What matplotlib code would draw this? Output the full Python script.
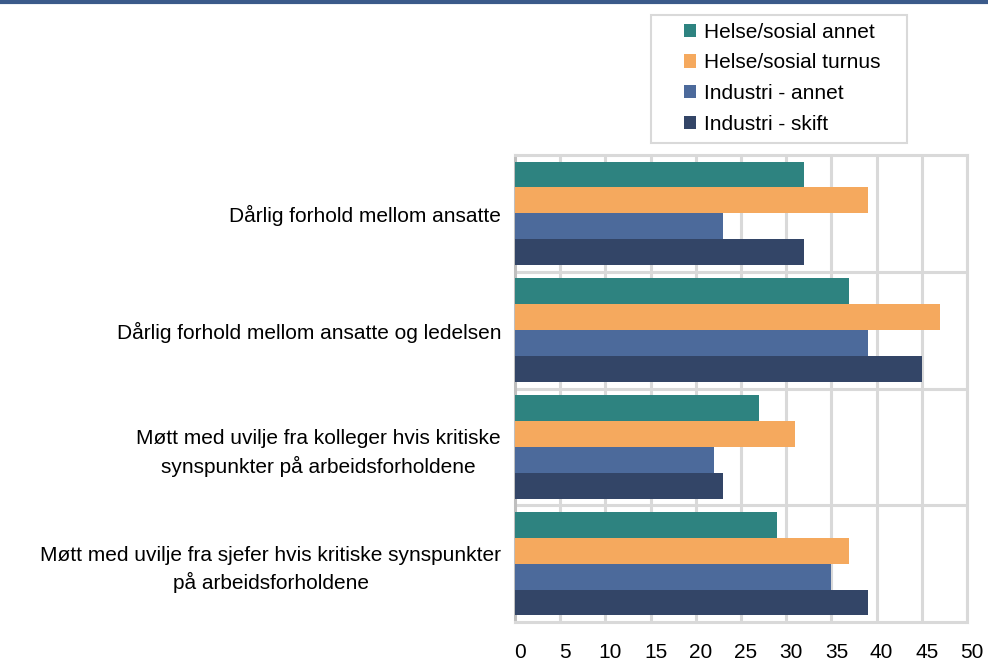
import matplotlib
matplotlib.use("Agg")
import matplotlib.pyplot as plt
import matplotlib.transforms as mtransforms
import numpy as np
from matplotlib.patches import Patch, Rectangle

categories = [
    "Dårlig forhold mellom ansatte",
    "Dårlig forhold mellom ansatte og ledelsen",
    "Møtt med uvilje fra kolleger hvis kritiske\nsynspunkter på arbeidsforholdene",
    "Møtt med uvilje fra sjefer hvis kritiske synspunkter\npå arbeidsforholdene",
]
series_names = ["Helse/sosial annet", "Helse/sosial turnus", "Industri - annet", "Industri - skift"]
helse_annet = [32, 37, 27, 29]
helse_turnus = [39, 47, 31, 37]
industri_annet = [23, 39, 22, 35]
industri_skift = [32, 45, 23, 39]
x_ticks = [0, 5, 10, 15, 20, 25, 30, 35, 40, 45, 50]

colors = ["#2e8380", "#f5a95e", "#4c6a9b", "#334567"]
values = [helse_annet, helse_turnus, industri_annet, industri_skift]

plt.rcParams['font.family'] = ['Liberation Sans', 'DejaVu Sans']

W, H = 988, 662
fig = plt.figure(figsize=(W/100, H/100), dpi=100)
ax = fig.add_axes([515/W, 1-622/H, (967-515)/W, (622-155)/H])

n = len(categories)
bh = 0.222
y_centers = np.arange(n)
for i, (vals, c) in enumerate(zip(values, colors)):
    offs = (i - 1.5) * bh
    ax.barh(y_centers + offs, vals, height=bh, color=c, zorder=3, label=series_names[i])

ax.set_ylim(n - 0.5, -0.5)
ax.set_xlim(0, 50)
ax.set_xticks(x_ticks)
ax.set_xticklabels([str(t) for t in x_ticks], fontsize=15)
ax.set_yticks(y_centers)
ax.set_yticklabels(categories, fontsize=15, multialignment='center', linespacing=1.45)
ax.tick_params(axis='both', length=0)
ax.tick_params(axis='x', pad=15)
ax.tick_params(axis='y', pad=10)
offset = mtransforms.ScaledTranslation(5/100, 0, fig.dpi_scale_trans)
for lbl in ax.get_xticklabels():
    lbl.set_transform(lbl.get_transform() + offset)

for t in x_ticks[1:]:
    ax.axvline(t, color="#d9d9d9", lw=2.2, zorder=1)
for b in np.arange(0.5, n - 0.5, 1.0):
    ax.axhline(b, color="#d9d9d9", lw=2.2, zorder=1)
for s in ax.spines.values():
    s.set_color("#d9d9d9")
    s.set_linewidth(2.2)
ax.spines['left'].set_color("#bfbfbf")

# legend frame
fig.add_artist(Rectangle((651/W, 1-143/H), (907-651)/W, (143-15)/H,
                         transform=fig.transFigure, facecolor='white',
                         edgecolor="#d9d9d9", lw=1.5))
handles = [Patch(facecolor=c, edgecolor='none') for c in colors]
leg = fig.legend(handles, series_names, loc='upper left',
                 bbox_to_anchor=(669/W, 1-8/H), fontsize=15,
                 frameon=False, handlelength=0.6, handleheight=0.6,
                 handletextpad=0.4, labelspacing=0.56, borderpad=0.2)

fig.add_artist(plt.Line2D([0, 1], [1 - 1.5/H, 1 - 1.5/H], color="#3b5a8a", lw=3,
                          transform=fig.transFigure))

fig.savefig("out.png", dpi=100)
